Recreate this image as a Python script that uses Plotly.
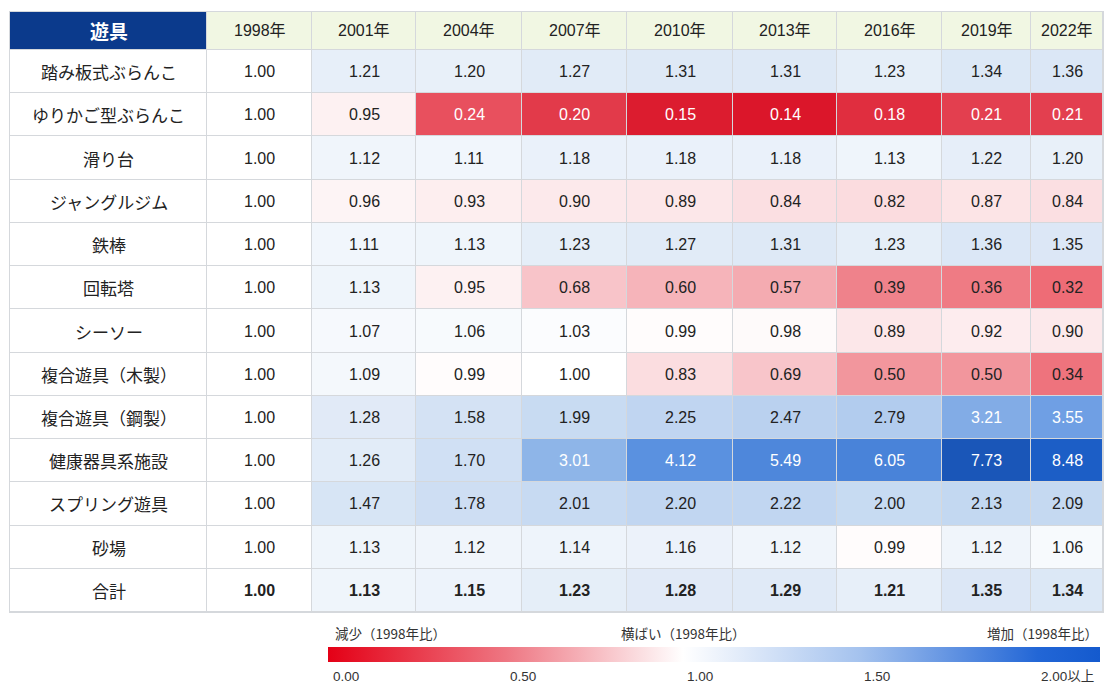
import numpy as np
import plotly.graph_objects as go

# ---------------- data ----------------
HEADER_LABEL = "遊具"
YEARS = ["1998年", "2001年", "2004年", "2007年", "2010年", "2013年", "2016年", "2019年", "2022年"]
ITEMS = ["踏み板式ぶらんこ", "ゆりかご型ぶらんこ", "滑り台", "ジャングルジム", "鉄棒", "回転塔",
         "シーソー", "複合遊具（木製）", "複合遊具（鋼製）", "健康器具系施設", "スプリング遊具", "砂場", "合計"]

v_fumiita   = [1.00, 1.21, 1.20, 1.27, 1.31, 1.31, 1.23, 1.34, 1.36]
v_yurikago  = [1.00, 0.95, 0.24, 0.20, 0.15, 0.14, 0.18, 0.21, 0.21]
v_suberi    = [1.00, 1.12, 1.11, 1.18, 1.18, 1.18, 1.13, 1.22, 1.20]
v_jungle    = [1.00, 0.96, 0.93, 0.90, 0.89, 0.84, 0.82, 0.87, 0.84]
v_tetsubo   = [1.00, 1.11, 1.13, 1.23, 1.27, 1.31, 1.23, 1.36, 1.35]
v_kaiten    = [1.00, 1.13, 0.95, 0.68, 0.60, 0.57, 0.39, 0.36, 0.32]
v_seesaw    = [1.00, 1.07, 1.06, 1.03, 0.99, 0.98, 0.89, 0.92, 0.90]
v_fukugo_w  = [1.00, 1.09, 0.99, 1.00, 0.83, 0.69, 0.50, 0.50, 0.34]
v_fukugo_s  = [1.00, 1.28, 1.58, 1.99, 2.25, 2.47, 2.79, 3.21, 3.55]
v_kenko     = [1.00, 1.26, 1.70, 3.01, 4.12, 5.49, 6.05, 7.73, 8.48]
v_spring    = [1.00, 1.47, 1.78, 2.01, 2.20, 2.22, 2.00, 2.13, 2.09]
v_sunaba    = [1.00, 1.13, 1.12, 1.14, 1.16, 1.12, 0.99, 1.12, 1.06]
v_total     = [1.00, 1.13, 1.15, 1.23, 1.28, 1.29, 1.21, 1.35, 1.34]

VALUES = [v_fumiita, v_yurikago, v_suberi, v_jungle, v_tetsubo, v_kaiten, v_seesaw,
          v_fukugo_w, v_fukugo_s, v_kenko, v_spring, v_sunaba, v_total]

LEGEND_TITLES = ["減少（1998年比）", "横ばい（1998年比）", "増加（1998年比）"]
LEGEND_TICKS = [0.0, 0.5, 1.0, 1.5, 2.0]
LEGEND_TICKTEXT = ["0.00", "0.50", "1.00", "1.50", "2.00以上"]

# ---------------- layout constants ----------------
W, H = 1107, 686
COL_W = [197, 105, 104, 106, 105, 106, 104, 105, 89, 72]
HEADER_H = 38
ROW_H = 43.23
TABLE_LEFT, TABLE_TOP = 10, 12
LEGEND_LEFT, LEGEND_RIGHT = 328, 1100
LEGEND_TOP, LEGEND_THICK = 647, 15
LEGEND_LABEL_Y = 676
LEGEND_MAX = 2.18

NAVY = "#0b3a8c"
PALE = "#f1f7e3"
GRID = "#d5d8dc"
TXT = "#222222"
FONT = "Liberation Sans, Noto Sans CJK JP, sans-serif"
JFONT = "Noto Sans CJK JP, sans-serif"

# ---------------- geometry from layout ----------------
x_edges = np.concatenate([[0], np.cumsum(COL_W)])
n_rows = len(ITEMS)
y_edges = np.concatenate([[0], HEADER_H + ROW_H * np.arange(0, n_rows + 1)])
x_cent = (x_edges[:-1] + x_edges[1:]) / 2
y_cent = (y_edges[:-1] + y_edges[1:]) / 2
total_w = x_edges[-1]
total_h = y_edges[-1]

vals = np.array(VALUES)
vmin, vmax = vals.min(), vals.max()


def tone(v):
    if v < 1:
        return -(1 - v) / (1 - vmin)
    return np.log(v) / np.log(vmax)


tones = np.vectorize(tone)(vals)

CELL_SCALE = [
    [0.000, "rgb(219,22,42)"],
    [0.035, "rgb(226,58,74)"],
    [0.060, "rgb(232,82,96)"],
    [0.105, "rgb(238,108,118)"],
    [0.135, "rgb(239,127,136)"],
    [0.210, "rgb(242,150,157)"],
    [0.275, "rgb(246,184,190)"],
    [0.400, "rgb(251,221,224)"],
    [0.470, "rgb(253,241,242)"],
    [0.500, "rgb(255,255,255)"],
    [0.530, "rgb(238,244,251)"],
    [0.565, "rgb(221,232,246)"],
    [0.660, "rgb(200,219,242)"],
    [0.740, "rgb(178,204,238)"],
    [0.757, "rgb(143,181,232)"],
    [0.795, "rgb(112,160,228)"],
    [0.830, "rgb(90,145,224)"],
    [0.920, "rgb(74,132,218)"],
    [0.978, "rgb(26,86,184)"],
    [1.000, "rgb(28,94,198)"],
]

LEGEND_SCALE = [
    [0.0, "rgb(228,0,22)"],
    [0.23, "rgb(238,118,130)"],
    [0.46, "rgb(255,255,255)"],
    [0.69, "rgb(164,194,238)"],
    [0.92, "rgb(34,102,214)"],
    [1.0, "rgb(20,90,206)"],
]

fig = go.Figure()

# header row
fig.add_trace(go.Heatmap(
    x=x_edges, y=y_edges[:2], z=[[0] + [1] * len(YEARS)],
    colorscale=[[0, NAVY], [1, PALE]], zmin=0, zmax=1, showscale=False,
    xgap=1, ygap=1, hoverinfo="skip"))

# item label column
fig.add_trace(go.Heatmap(
    x=x_edges[:2], y=y_edges[1:], z=[[0] for _ in ITEMS],
    colorscale=[[0, "white"], [1, "white"]], zmin=0, zmax=1, showscale=False,
    xgap=1, ygap=1, hoverinfo="skip"))

# value cells
fig.add_trace(go.Heatmap(
    x=x_edges[1:], y=y_edges[1:], z=tones,
    colorscale=CELL_SCALE, zmin=-1, zmax=1, showscale=False,
    xgap=1, ygap=1, hoverinfo="skip"))

# legend colour bar (dummy trace bound to coloraxis2)
fig.add_trace(go.Scatter(
    x=[None], y=[None], mode="markers",
    marker=dict(color=[0], coloraxis="coloraxis2"),
    showlegend=False, hoverinfo="skip"))

ann = []
# header texts
ann.append(dict(x=x_cent[0], y=y_cent[0], text="<b>" + HEADER_LABEL + "</b>", showarrow=False,
                font=dict(family=JFONT, size=19, color="white")))
for j, yr in enumerate(YEARS):
    ann.append(dict(x=x_cent[j + 1], y=y_cent[0], text=yr, showarrow=False,
                    font=dict(family=FONT, size=16, color=TXT)))
# rows
for i, item in enumerate(ITEMS):
    is_total = i == n_rows - 1
    ann.append(dict(x=x_cent[0], y=y_cent[i + 1], text=item, showarrow=False,
                    font=dict(family=JFONT, size=17, color=TXT)))
    for j in range(len(YEARS)):
        v = VALUES[i][j]
        col = "white" if (v < 0.3 or v > 3.0) else TXT
        s = f"{v:.2f}"
        if is_total:
            s = f"<b>{s}</b>"
        ann.append(dict(x=x_cent[j + 1], y=y_cent[i + 1], text=s, showarrow=False,
                        font=dict(family=FONT, size=16, color=col)))

# legend titles
title_y = 1 - 633 / H
tfont = dict(family=JFONT, size=13.5, color="#333")
ann.append(dict(xref="paper", yref="paper", x=333 / W, y=title_y, xanchor="left", yanchor="middle",
                text=LEGEND_TITLES[0], showarrow=False, font=tfont))
ann.append(dict(xref="paper", yref="paper", x=683 / W, y=title_y, xanchor="center", yanchor="middle",
                text=LEGEND_TITLES[1], showarrow=False, font=tfont))
ann.append(dict(xref="paper", yref="paper", x=1100 / W, y=title_y, xanchor="right", yanchor="middle",
                text=LEGEND_TITLES[2], showarrow=False, font=tfont))

# legend tick labels (left-aligned at their value on the colour bar)
px_per_unit = (LEGEND_RIGHT - LEGEND_LEFT) / LEGEND_MAX
for tv, tt in zip(LEGEND_TICKS, LEGEND_TICKTEXT):
    ann.append(dict(xref="paper", yref="paper",
                    x=(LEGEND_LEFT + tv * px_per_unit + 4) / W, y=1 - LEGEND_LABEL_Y / H,
                    xanchor="left", yanchor="middle", text=tt, showarrow=False, borderpad=0,
                    font=dict(family=FONT, size=13.5, color="#333")))

fig.update_layout(
    width=W, height=H,
    margin=dict(l=0, r=0, t=0, b=0),
    paper_bgcolor="white", plot_bgcolor=GRID,
    font=dict(family=FONT, color=TXT),
    annotations=ann,
    xaxis=dict(visible=False, range=[-1, total_w + 1], fixedrange=True,
               domain=[(TABLE_LEFT - 1) / W, (TABLE_LEFT + total_w + 1) / W]),
    yaxis=dict(visible=False, range=[total_h + 1, -1], fixedrange=True,
               domain=[1 - (TABLE_TOP + total_h + 1) / H, 1 - (TABLE_TOP - 1) / H]),
    coloraxis2=dict(
        colorscale=LEGEND_SCALE, cmin=0, cmax=LEGEND_MAX, showscale=True,
        colorbar=dict(
            orientation="h", x=LEGEND_LEFT / W, xanchor="left",
            y=1 - LEGEND_TOP / H, yanchor="top",
            len=LEGEND_RIGHT - LEGEND_LEFT, lenmode="pixels",
            thickness=LEGEND_THICK, thicknessmode="pixels",
            xpad=0, ypad=0, outlinewidth=0,
            tickvals=LEGEND_TICKS, showticklabels=False, ticks="",
        ),
    ),
)

fig.write_html("out.html", config={"displayModeBar": False},
               post_script="document.body.style.margin='0';document.body.style.overflow='hidden';")
